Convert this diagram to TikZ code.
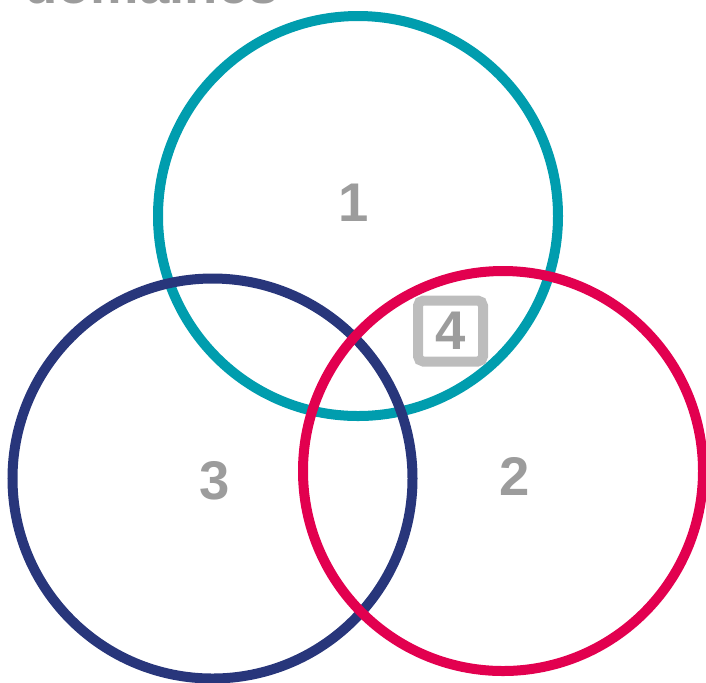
\documentclass[tikz,border=0pt]{standalone}
\usepackage{fontspec}
\setsansfont{Liberation Sans}
\usepackage{tikz}
\usetikzlibrary{positioning}
\definecolor{ringteal}{HTML}{009DAE}
\definecolor{ringnavy}{HTML}{28367B}
\definecolor{ringred}{HTML}{E2004F}
\definecolor{numgray}{HTML}{9C9C9C}
\definecolor{boxgray}{HTML}{BDBDBD}
\tikzset{
    venn ring/.style={circle, minimum size=8cm, line width=0.2cm, inner sep=0pt},
    venn num/.style={font=\sffamily\bfseries\fontsize{31}{36}\selectfont, text=numgray, inner sep=0pt},
    venn box/.style={draw=boxgray, line width=0.2cm, rounded corners=3pt,
        minimum width=1.3cm, minimum height=1.22cm, inner sep=0pt}
}
\begin{document}
\begin{tikzpicture}
\useasboundingbox (0,0) rectangle (14.12,-13.64);
\clip (0,0) rectangle (14.12,-13.64);
% title, cut at the top
\node[venn num, anchor=base west] (title) at (0.48,-0.06) {domaines};

% the three rings
\node[venn ring, draw=ringteal] (ring1) at (7.16,-4.32) {};
\node[venn ring, draw=ringnavy] (ring3) at (4.25,-9.57) {};
\node[venn ring, draw=ringred] (ring2) at (10.06,-9.42) {};

% numbers
\node[venn num] (n1) at (7.08,-4.06) {1};
\node[venn num] (n3) at (4.30,-9.62) {3};
\node[venn num] (n2) at (10.30,-9.52) {2};
\node[venn box] (b4) at (9.01,-6.62) {};
\node[venn num] (n4) at (b4) {4};
\end{tikzpicture}
\end{document}
